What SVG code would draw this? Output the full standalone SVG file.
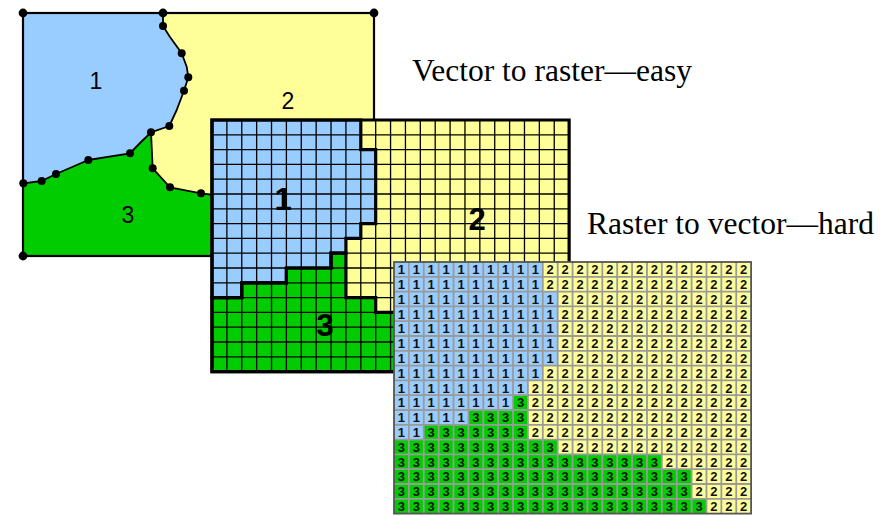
<svg xmlns="http://www.w3.org/2000/svg" xmlns:xlink="http://www.w3.org/1999/xlink" width="885" height="516" viewBox="0 0 885 516">
  <style>
    .c1 { fill: #99CCFF; }
    .c2 { fill: #FFFF99; }
    .c3 { fill: #00CC00; }
    .edge { fill: none; stroke: #000; stroke-width: 1.8; stroke-linejoin: round; }
    .v { fill: #000; }
    .lbl { font-family: "Liberation Sans", Arial, sans-serif; fill: #000; text-anchor: middle; }
    .cap { font-family: "Liberation Serif", "Times New Roman", serif; font-size: 31.5px; fill: #000; }
    .val { font-family: "Liberation Sans", Arial, sans-serif; font-size: 13px; font-weight: bold; fill: #111; text-anchor: middle; }
    .nss { vector-effect: non-scaling-stroke; }
  </style>
  <defs>
    <!-- zone fills in cell units: 24 columns x 17 rows -->
    <g id="zones">
      <rect class="c2" x="0" y="0" width="24" height="17"/>
      <polygon id="zone1" class="c1" points="0,0 10,0 10,2 11,2 11,7 10,7 10,8 9,8 9,9 8,9 8,10 5,10 5,11 2,11 2,12 0,12"/>
      <polygon id="zone3" class="c3" points="8,9 9,9 9,12 11,12 11,13 18,13 18,14 20,14 20,16 21,16 21,17 0,17 0,12 2,12 2,11 5,11 5,10 8,10"/>
    </g>
    <path id="cells" class="nss" fill="none" d="M1 0V17M2 0V17M3 0V17M4 0V17M5 0V17M6 0V17M7 0V17M8 0V17M9 0V17M10 0V17M11 0V17M12 0V17M13 0V17M14 0V17M15 0V17M16 0V17M17 0V17M18 0V17M19 0V17M20 0V17M21 0V17M22 0V17M23 0V17M0 1H24M0 2H24M0 3H24M0 4H24M0 5H24M0 6H24M0 7H24M0 8H24M0 9H24M0 10H24M0 11H24M0 12H24M0 13H24M0 14H24M0 15H24M0 16H24"/>
    <g id="bounds" fill="none" class="nss">
      <polygon class="nss" points="0,0 10,0 10,2 11,2 11,7 10,7 10,8 9,8 9,9 8,9 8,10 5,10 5,11 2,11 2,12 0,12"/>
      <polygon class="nss" points="8,9 9,9 9,12 11,12 11,13 18,13 18,14 20,14 20,16 21,16 21,17 0,17 0,12 2,12 2,11 5,11 5,10 8,10"/>
      <rect class="nss" x="0" y="0" width="24" height="17"/>
    </g>
  </defs>

  <rect width="885" height="516" fill="#fff"/>

  <!-- polygon (vector) map -->
  <g id="vector-map">
    <rect class="c2" x="23" y="13" width="351" height="243"/>
    <polygon class="c1" points="23,13 163,13 163,26 170,37 181.7,53.3 186.7,66.7 188.3,77.3 184,90.7 176.7,110 169.3,126 151,132.3 140,143 130,153.3 88.3,160 56,174 41.7,181 23.3,183.3"/>
    <polygon class="c3" points="23.3,183.3 41.7,181 56,174 88.3,160 130,153.3 140,143 151,132.3 152.7,168.3 170,187.3 201,193.3 214,195 214,256 23,256"/>
    <polyline class="edge" points="163,13 163,26 170,37 181.7,53.3 186.7,66.7 188.3,77.3 184,90.7 176.7,110 169.3,126 151,132.3 140,143 130,153.3 88.3,160 56,174 41.7,181 23.3,183.3"/>
    <polyline class="edge" points="151,132.3 152.7,168.3 170,187.3 201,193.3 214,195"/>
    <rect x="23" y="13" width="351" height="243" fill="none" stroke="#000" stroke-width="2.2"/>
    <g id="vertices">
      <circle class="v" cx="23" cy="13" r="4.4"/>
      <circle class="v" cx="163" cy="13" r="4.4"/>
      <circle class="v" cx="374" cy="13" r="4.4"/>
      <circle class="v" cx="23" cy="256" r="4.4"/>
      <circle class="v" cx="163" cy="26" r="4"/>
      <circle class="v" cx="181.7" cy="53.3" r="4"/>
      <circle class="v" cx="188.3" cy="77.3" r="4"/>
      <circle class="v" cx="184" cy="90.7" r="4"/>
      <circle class="v" cx="169.3" cy="126" r="4"/>
      <circle class="v" cx="151" cy="132.3" r="4"/>
      <circle class="v" cx="130" cy="153.3" r="4"/>
      <circle class="v" cx="88.3" cy="160" r="4"/>
      <circle class="v" cx="56" cy="174" r="4"/>
      <circle class="v" cx="41.7" cy="181" r="4"/>
      <circle class="v" cx="23.3" cy="183.3" r="4"/>
      <circle class="v" cx="152.7" cy="168.3" r="4"/>
      <circle class="v" cx="170" cy="187.3" r="4"/>
      <circle class="v" cx="201" cy="193.3" r="4"/>
    </g>
    <text class="lbl" x="96" y="89" font-size="23">1</text>
    <text class="lbl" x="288" y="109" font-size="23">2</text>
    <text class="lbl" x="128" y="222.5" font-size="23">3</text>
  </g>

  <!-- rasterised map with zone outlines -->
  <g id="raster-map">
    <g transform="translate(212 120) scale(14.88 14.8)">
      <use xlink:href="#zones"/>
      <use xlink:href="#cells" stroke="#000" stroke-width="1.3"/>
      <use xlink:href="#bounds" stroke="#000" stroke-width="3.2"/>
    </g>
    <text class="lbl" x="283" y="210" font-size="31" font-weight="bold">1</text>
    <text class="lbl" x="477" y="230" font-size="31" font-weight="bold">2</text>
    <text class="lbl" x="325" y="336" font-size="31" font-weight="bold">3</text>
  </g>

  <!-- raster cell values -->
  <g id="raster-values">
    <g transform="translate(394 262) scale(14.88 14.8)">
      <use xlink:href="#zones"/>
      <use xlink:href="#cells" stroke="#9a9a9a" stroke-width="1.8"/>
    </g>
    <rect x="394" y="262" width="357.1" height="251.6" fill="none" stroke="#555" stroke-width="1.8"/>
    <g class="val">
      <text y="274.1" x="401.4 416.3 431.2 446.1 461 475.8 490.7 505.6 520.5 535.4 550.2 565.1 580 594.9 609.8 624.6 639.5 654.4 669.3 684.2 699 713.9 728.8 743.7">111111111122222222222222</text>
      <text y="288.9" x="401.4 416.3 431.2 446.1 461 475.8 490.7 505.6 520.5 535.4 550.2 565.1 580 594.9 609.8 624.6 639.5 654.4 669.3 684.2 699 713.9 728.8 743.7">111111111122222222222222</text>
      <text y="303.7" x="401.4 416.3 431.2 446.1 461 475.8 490.7 505.6 520.5 535.4 550.2 565.1 580 594.9 609.8 624.6 639.5 654.4 669.3 684.2 699 713.9 728.8 743.7">111111111112222222222222</text>
      <text y="318.5" x="401.4 416.3 431.2 446.1 461 475.8 490.7 505.6 520.5 535.4 550.2 565.1 580 594.9 609.8 624.6 639.5 654.4 669.3 684.2 699 713.9 728.8 743.7">111111111112222222222222</text>
      <text y="333.3" x="401.4 416.3 431.2 446.1 461 475.8 490.7 505.6 520.5 535.4 550.2 565.1 580 594.9 609.8 624.6 639.5 654.4 669.3 684.2 699 713.9 728.8 743.7">111111111112222222222222</text>
      <text y="348.1" x="401.4 416.3 431.2 446.1 461 475.8 490.7 505.6 520.5 535.4 550.2 565.1 580 594.9 609.8 624.6 639.5 654.4 669.3 684.2 699 713.9 728.8 743.7">111111111112222222222222</text>
      <text y="362.9" x="401.4 416.3 431.2 446.1 461 475.8 490.7 505.6 520.5 535.4 550.2 565.1 580 594.9 609.8 624.6 639.5 654.4 669.3 684.2 699 713.9 728.8 743.7">111111111112222222222222</text>
      <text y="377.7" x="401.4 416.3 431.2 446.1 461 475.8 490.7 505.6 520.5 535.4 550.2 565.1 580 594.9 609.8 624.6 639.5 654.4 669.3 684.2 699 713.9 728.8 743.7">111111111122222222222222</text>
      <text y="392.5" x="401.4 416.3 431.2 446.1 461 475.8 490.7 505.6 520.5 535.4 550.2 565.1 580 594.9 609.8 624.6 639.5 654.4 669.3 684.2 699 713.9 728.8 743.7">111111111222222222222222</text>
      <text y="407.3" x="401.4 416.3 431.2 446.1 461 475.8 490.7 505.6 520.5 535.4 550.2 565.1 580 594.9 609.8 624.6 639.5 654.4 669.3 684.2 699 713.9 728.8 743.7">111111113222222222222222</text>
      <text y="422.1" x="401.4 416.3 431.2 446.1 461 475.8 490.7 505.6 520.5 535.4 550.2 565.1 580 594.9 609.8 624.6 639.5 654.4 669.3 684.2 699 713.9 728.8 743.7">111113333222222222222222</text>
      <text y="436.9" x="401.4 416.3 431.2 446.1 461 475.8 490.7 505.6 520.5 535.4 550.2 565.1 580 594.9 609.8 624.6 639.5 654.4 669.3 684.2 699 713.9 728.8 743.7">113333333222222222222222</text>
      <text y="451.7" x="401.4 416.3 431.2 446.1 461 475.8 490.7 505.6 520.5 535.4 550.2 565.1 580 594.9 609.8 624.6 639.5 654.4 669.3 684.2 699 713.9 728.8 743.7">333333333332222222222222</text>
      <text y="466.5" x="401.4 416.3 431.2 446.1 461 475.8 490.7 505.6 520.5 535.4 550.2 565.1 580 594.9 609.8 624.6 639.5 654.4 669.3 684.2 699 713.9 728.8 743.7">333333333333333333222222</text>
      <text y="481.3" x="401.4 416.3 431.2 446.1 461 475.8 490.7 505.6 520.5 535.4 550.2 565.1 580 594.9 609.8 624.6 639.5 654.4 669.3 684.2 699 713.9 728.8 743.7">333333333333333333332222</text>
      <text y="496.1" x="401.4 416.3 431.2 446.1 461 475.8 490.7 505.6 520.5 535.4 550.2 565.1 580 594.9 609.8 624.6 639.5 654.4 669.3 684.2 699 713.9 728.8 743.7">333333333333333333332222</text>
      <text y="510.9" x="401.4 416.3 431.2 446.1 461 475.8 490.7 505.6 520.5 535.4 550.2 565.1 580 594.9 609.8 624.6 639.5 654.4 669.3 684.2 699 713.9 728.8 743.7">333333333333333333333222</text>
    </g>
  </g>

  <!-- captions -->
  <text id="caption-easy" class="cap" x="412" y="81">Vector to raster—easy</text>
  <text id="caption-hard" class="cap" x="587" y="234">Raster to vector—hard</text>
</svg>
